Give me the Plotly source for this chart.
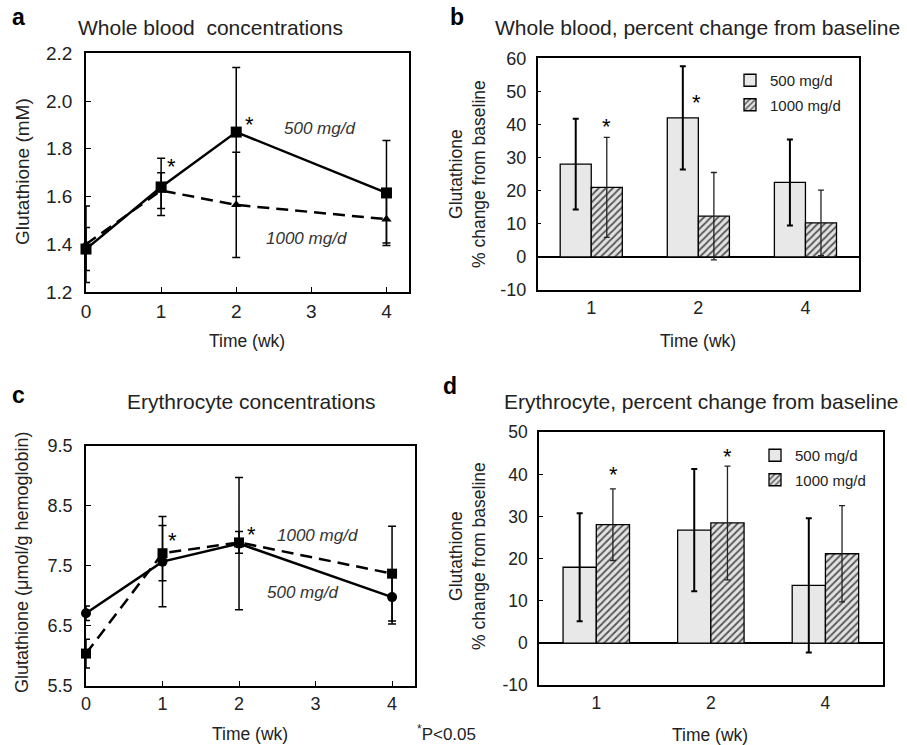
import plotly.graph_objects as go

W, H = 907, 745
FONT = "Arial, Liberation Sans, sans-serif"
TXT = "#222222"

# ---------------- data ----------------
weeks = [0, 1, 2, 4]
a_500 = [1.38, 1.64, 1.87, 1.615]
a_500_err = [0.09, 0.12, 0.27, 0.22]
a_1000 = [1.40, 1.625, 1.565, 1.505]
a_1000_err = [0.16, 0.075, 0.22, 0.10]

c_500 = [6.71, 7.57, 7.87, 6.98]
c_500_err = [0.12, 0.75, 1.10, 0.45]
c_1000 = [6.04, 7.71, 7.89, 7.37]
c_1000_err = [0.24, 0.46, 0.18, 0.79]

bar_weeks = ["1", "2", "4"]
b_500 = [28.0, 42.0, 22.5]
b_500_err = [13.7, 15.6, 13.0]
b_1000 = [21.0, 12.3, 10.3]
b_1000_err = [15.1, 13.2, 9.9]

d_500 = [18.0, 26.8, 13.7]
d_500_err = [12.8, 14.5, 15.9]
d_1000 = [28.1, 28.5, 21.2]
d_1000_err = [8.5, 13.5, 11.4]

x_ticks_line = [0, 1, 2, 3, 4]
y_ticks_a = [1.2, 1.4, 1.6, 1.8, 2.0, 2.2]
y_ticks_c = [5.5, 6.5, 7.5, 8.5, 9.5]
y_ticks_b = [-10, 0, 10, 20, 30, 40, 50, 60]
y_ticks_d = [-10, 0, 10, 20, 30, 40, 50]

# ---------------- helpers ----------------
def px_x(a, b):
    return [a / W, b / W]

def px_y(top, bottom):
    return [1 - bottom / H, 1 - top / H]

fig = go.Figure()

def line_trace(x, y, err, dash, symbol, size, xa, ya):
    return go.Scatter(
        x=x, y=y, mode="lines+markers", xaxis=xa, yaxis=ya,
        line=dict(color="black", width=2.5, dash=dash),
        marker=dict(symbol=symbol, size=size, color="black"),
        error_y=dict(type="data", array=err, visible=True, color="black",
                     thickness=1.5, width=4),
        showlegend=False, cliponaxis=False,
    )

# panel a
fig.add_trace(line_trace(weeks, a_1000, a_1000_err, "12px,7px", "triangle-up", 9, "x", "y"))
fig.add_trace(line_trace(weeks, a_500, a_500_err, "solid", "square", 11, "x", "y"))
# panel c
fig.add_trace(line_trace(weeks, c_1000, c_1000_err, "12px,7px", "square", 10, "x3", "y3"))
fig.add_trace(line_trace(weeks, c_500, c_500_err, "solid", "circle", 10, "x3", "y3"))

def bar_pair(v500, e500, v1000, e1000, xa, ya, leg):
    t1 = go.Bar(
        x=bar_weeks, y=v500, name="500 mg/d", xaxis=xa, yaxis=ya, legend=leg,
        legendgroup=leg + "a",
        marker=dict(color="#e8e8e8", line=dict(color="black", width=1.3)),
        error_y=dict(type="data", array=e500, visible=True, color="black",
                     thickness=2, width=3),
    )
    t2 = go.Bar(
        x=bar_weeks, y=v1000, name="1000 mg/d", xaxis=xa, yaxis=ya, legend=leg,
        legendgroup=leg + "b",
        marker=dict(color="#dedede", line=dict(color="black", width=1.3),
                    pattern=dict(shape="/", fgcolor="#555555", bgcolor="#e2e2e2",
                                 size=5, solidity=0.35)),
        error_y=dict(type="data", array=e1000, visible=True, color="#222222",
                     thickness=1.3, width=3),
    )
    return [t1, t2]

for t in bar_pair(b_500, b_500_err, b_1000, b_1000_err, "x2", "y2", "legend"):
    fig.add_trace(t)
for t in bar_pair(d_500, d_500_err, d_1000, d_1000_err, "x4", "y4", "legend2"):
    fig.add_trace(t)

def ax(size, **kw):
    d = dict(showline=True, mirror=True, linecolor="black", linewidth=1.5,
             showgrid=False, zeroline=False, automargin=False,
             tickfont=dict(family=FONT, size=size, color=TXT))
    d.update(kw)
    return d

fig.update_layout(
    template="none",
    width=W, height=H, margin=dict(l=0, r=0, t=0, b=0, pad=0),
    paper_bgcolor="white", plot_bgcolor="white",
    barmode="group", bargap=0.42, bargroupgap=0,
    font=dict(family=FONT, color=TXT),
    xaxis=ax(19, domain=px_x(86, 409), range=[0, 4.3], anchor="y",
             tickvals=x_ticks_line, ticks="inside", ticklen=5, tickcolor="black",
             ticklabelstandoff=1),
    yaxis=ax(19, domain=px_y(53.3, 292), range=[1.2, 2.2], anchor="x",
             tickvals=y_ticks_a, tickformat=".1f", ticks="inside", ticklen=5,
             tickcolor="black", ticklabelstandoff=8),
    xaxis2=ax(18, domain=px_x(537.7, 859), range=[-0.5, 2.5], type="category",
              anchor="y2", ticks="", ticklabelstandoff=1),
    yaxis2=ax(18, domain=px_y(58.3, 290), range=[-10, 60], anchor="x2",
              tickvals=y_ticks_b, ticktext=[str(v) for v in y_ticks_b],
              ticks="inside", ticklen=4, tickcolor="black", ticklabelstandoff=6,
              zeroline=True, zerolinecolor="black", zerolinewidth=1.5),
    xaxis3=ax(18, domain=px_x(86, 415), range=[0, 4.3], anchor="y3",
              tickvals=x_ticks_line, ticks="inside", ticklen=5, tickcolor="black",
              ticklabelstandoff=1),
    yaxis3=ax(18, domain=px_y(445.7, 686), range=[5.5, 9.5], anchor="x3",
              tickvals=y_ticks_c, tickformat=".1f", ticks="inside", ticklen=5,
              tickcolor="black", ticklabelstandoff=8),
    xaxis4=ax(17.5, domain=px_x(539, 882.7), range=[-0.5, 2.5], type="category",
              anchor="y4", ticks="", ticklabelstandoff=1),
    yaxis4=ax(17.5, domain=px_y(432.3, 685.3), range=[-10, 50], anchor="x4",
              tickvals=y_ticks_d, ticktext=[str(v) for v in y_ticks_d],
              ticks="inside", ticklen=4, tickcolor="black", ticklabelstandoff=6,
              zeroline=True, zerolinecolor="black", zerolinewidth=1.5),
    legend=dict(x=730 / W, y=1 - 64 / H, xanchor="left", yanchor="top",
                font=dict(family=FONT, size=15, color=TXT), bgcolor="rgba(0,0,0,0)",
                tracegroupgap=2),
    legend2=dict(x=755 / W, y=1 - 439 / H, xanchor="left", yanchor="top",
                 font=dict(family=FONT, size=15, color=TXT), bgcolor="rgba(0,0,0,0)",
                 tracegroupgap=2),
)

ann = []

def paper_text(text, x, y, size, bold=False, angle=0, xanchor="center"):
    ann.append(dict(text=("<b>%s</b>" % text) if bold else text, x=x / W, y=1 - y / H,
                    xref="paper", yref="paper", showarrow=False, textangle=angle,
                    xanchor=xanchor, yanchor="middle",
                    font=dict(family=FONT, size=size, color="black" if bold else TXT)))

# panel letters
paper_text("a", 18, 17, 23, bold=True)
paper_text("b", 457, 17, 23, bold=True)
paper_text("c", 18, 395, 23, bold=True)
paper_text("d", 450, 386, 23, bold=True)
# titles
paper_text("Whole blood  concentrations", 210, 27, 21)
paper_text("Whole blood, percent change from baseline", 697, 27, 21)
paper_text("Erythrocyte concentrations", 251, 402, 21)
paper_text("Erythrocyte, percent change from baseline", 701, 402, 21)
# axis titles
paper_text("Time (wk)", 247, 341, 17.5)
paper_text("Time (wk)", 698, 341, 17.5)
paper_text("Time (wk)", 250, 734, 17.5)
paper_text("Time (wk)", 710, 735, 17.5)
paper_text("Glutathione (mM)", 22, 172, 19, angle=-90)
paper_text("Glutathione (μmol/g hemoglobin)", 22, 562, 18, angle=-90)
paper_text("Glutathione<br>% change from baseline", 467, 174, 17.5, angle=-90)
paper_text("Glutathione<br>% change from baseline", 467, 556, 17.5, angle=-90)
paper_text("<sup>*</sup>P&lt;0.05", 415, 733, 17, xanchor="left")

def star(xa, ya, x, y, yshift):
    ann.append(dict(text="*", x=x, y=y, xref=xa, yref=ya, showarrow=False,
                    yshift=yshift, font=dict(family=FONT, size=22, color="black")))

star("x", "y", 1.14, a_500[1], 20)
star("x", "y", 2.17, a_500[2], 8)
star("x3", "y3", 1.136, c_1000[1], 13)
star("x3", "y3", 2.167, c_1000[2], 8)
star("x2", "y2", 0.145, b_1000[0] + b_1000_err[0], 11)
star("x2", "y2", 0.985, b_500[1], 15)
star("x4", "y4", 0.154, d_1000[0] + d_1000_err[0], 14)
star("x4", "y4", 1.146, d_1000[1] + d_1000_err[1], 10)

def italic(xa, ya, text, x, y):
    ann.append(dict(text="<i>%s</i>" % text, x=x, y=y, xref=xa, yref=ya, showarrow=False,
                    font=dict(family=FONT, size=17, color="#333333")))

italic("x", "y", "500 mg/d", 3.11, 1.883)
italic("x", "y", "1000 mg/d", 2.94, 1.426)
italic("x3", "y3", "1000 mg/d", 3.03, 8.01)
italic("x3", "y3", "500 mg/d", 2.83, 7.06)

fig.update_layout(annotations=ann)
fig.write_html("out.html")
